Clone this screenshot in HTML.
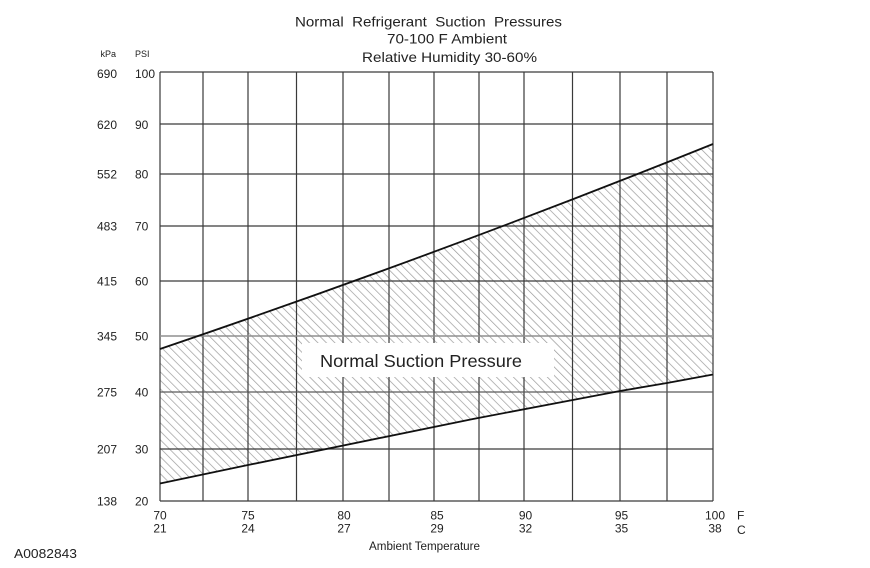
<!DOCTYPE html>
<html>
<head>
<meta charset="utf-8">
<style>
html,body{margin:0;padding:0;background:#fff;}
svg{display:block;}
text{font-family:"Liberation Sans",Arial,sans-serif;fill:#222;}
</style>
</head>
<body>
<svg width="870" height="568" viewBox="0 0 870 568" xmlns="http://www.w3.org/2000/svg">
<defs>
<pattern id="hatch" patternUnits="userSpaceOnUse" width="6" height="6" patternTransform="rotate(-45)">
<line x1="0" y1="0" x2="0" y2="6" stroke="#9a9a9a" stroke-width="1.4"/>
</pattern>
</defs>
<rect width="870" height="568" fill="#fff"/>

<!-- hatched region -->
<path fill="url(#hatch)" d="M160,349 Q436.5,255.2 713,144 L713,374.5 L667,383 L620,391 L578,399 L473,419 L248,465 L160,483.5 Z"/>

<!-- grid -->
<g stroke="#3a3a3a" stroke-width="1.2" fill="none">
<line x1="160" y1="72" x2="160" y2="501"/>
<line x1="203" y1="72" x2="203" y2="501"/>
<line x1="248" y1="72" x2="248" y2="501"/>
<line x1="296.5" y1="72" x2="296.5" y2="501"/>
<line x1="343" y1="72" x2="343" y2="501"/>
<line x1="389" y1="72" x2="389" y2="501"/>
<line x1="434" y1="72" x2="434" y2="501"/>
<line x1="479" y1="72" x2="479" y2="501"/>
<line x1="524" y1="72" x2="524" y2="501"/>
<line x1="572.5" y1="72" x2="572.5" y2="501"/>
<line x1="620" y1="72" x2="620" y2="501"/>
<line x1="667" y1="72" x2="667" y2="501"/>
<line x1="713" y1="72" x2="713" y2="501"/>
<line x1="160" y1="72" x2="713" y2="72"/>
<line x1="160" y1="124" x2="713" y2="124"/>
<line x1="160" y1="174" x2="713" y2="174"/>
<line x1="160" y1="226" x2="713" y2="226"/>
<line x1="160" y1="281" x2="713" y2="281"/>
<line x1="160" y1="336" x2="713" y2="336" stroke="#8f8f8f" stroke-width="1.6"/>
<line x1="160" y1="392" x2="713" y2="392" stroke="#5a5a5a"/>
<line x1="160" y1="449" x2="713" y2="449"/>
<line x1="160" y1="501" x2="713" y2="501"/>
</g>

<!-- boundary lines -->
<path fill="none" stroke="#111" stroke-width="1.8" d="M160,349 Q436.5,255.2 713,144"/>
<polyline fill="none" stroke="#111" stroke-width="1.8" points="160,483.5 248,465 473,419 578,399 620,391 667,383 713,374.5"/>

<!-- label box -->
<rect x="302" y="343" width="252" height="34" fill="#fff"/>
<text x="320" y="367" font-size="17.5" textLength="202" lengthAdjust="spacingAndGlyphs">Normal Suction Pressure</text>

<!-- title -->
<text x="295" y="26.5" font-size="14" textLength="267" lengthAdjust="spacingAndGlyphs" xml:space="preserve">Normal  Refrigerant  Suction  Pressures</text>
<text x="387" y="43.5" font-size="14" textLength="120" lengthAdjust="spacingAndGlyphs">70-100 F Ambient</text>
<text x="362" y="62" font-size="14" textLength="175" lengthAdjust="spacingAndGlyphs">Relative Humidity 30-60%</text>

<!-- y axis headers -->
<text x="116" y="57" font-size="9" text-anchor="end">kPa</text>
<text x="135" y="57" font-size="9">PSI</text>

<!-- kPa labels -->
<g font-size="12" text-anchor="end">
<text x="117" y="78">690</text>
<text x="117" y="129">620</text>
<text x="117" y="178.5">552</text>
<text x="117" y="230.5">483</text>
<text x="117" y="285.5">415</text>
<text x="117" y="340.5">345</text>
<text x="117" y="396.5">275</text>
<text x="117" y="453.5">207</text>
<text x="117" y="505.5">138</text>
</g>
<!-- PSI labels -->
<g font-size="12">
<text x="135" y="78">100</text>
<text x="135" y="129">90</text>
<text x="135" y="178.5">80</text>
<text x="135" y="230.5">70</text>
<text x="135" y="285.5">60</text>
<text x="135" y="340.5">50</text>
<text x="135" y="396.5">40</text>
<text x="135" y="453.5">30</text>
<text x="135" y="505.5">20</text>
</g>

<!-- x labels -->
<g font-size="12" text-anchor="middle">
<text x="160" y="519.5">70</text><text x="160" y="532.5">21</text>
<text x="248" y="519.5">75</text><text x="248" y="532.5">24</text>
<text x="344" y="519.5">80</text><text x="344" y="532.5">27</text>
<text x="437" y="519.5">85</text><text x="437" y="532.5">29</text>
<text x="525.5" y="519.5">90</text><text x="525.5" y="532.5">32</text>
<text x="621.5" y="519.5">95</text><text x="621.5" y="532.5">35</text>
<text x="715" y="519.5">100</text><text x="715" y="532.5">38</text>
</g>
<text x="737" y="519.5" font-size="12">F</text>
<text x="737" y="534" font-size="12">C</text>
<text x="369" y="550" font-size="11.5" textLength="111" lengthAdjust="spacingAndGlyphs">Ambient Temperature</text>

<text x="14" y="558" font-size="12.5" textLength="63" lengthAdjust="spacingAndGlyphs">A0082843</text>
</svg>
</body>
</html>
